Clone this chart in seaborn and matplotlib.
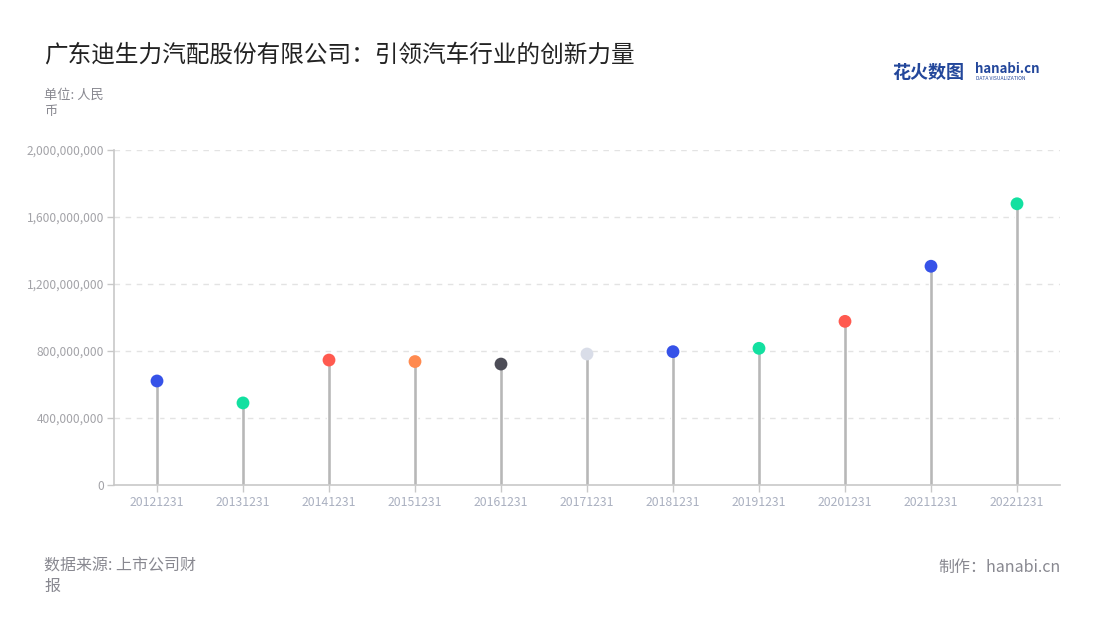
import numpy as np
import pandas as pd
import matplotlib
matplotlib.use("Agg")
import matplotlib.pyplot as plt
import seaborn as sns
from matplotlib.ticker import FuncFormatter


periods = ["20121231", "20131231", "20141231", "20151231", "20161231", "20171231",
           "20181231", "20191231", "20201231", "20211231", "20221231"]
rd_spend = [621e6, 490e6, 746e6, 737e6, 722e6, 782e6,
            796e6, 816e6, 977e6, 1306e6, 1679e6]
dot_colors = ["#3652e8", "#12e0a0", "#ff5a4f", "#ff8a4f", "#4d4d57", "#d9dde8",
              "#3652e8", "#12e0a0", "#ff5a4f", "#3652e8", "#12e0a0"]
y_ticks = [0, 400e6, 800e6, 1200e6, 1600e6, 2000e6]

TITLE = "广东迪生力汽配股份有限公司：引领汽车行业的创新力量"
UNIT = "单位: 人民\n币"
SOURCE = "数据来源: 上市公司财\n报"
MAKER = "制作：hanabi.cn"

sns.set_theme(style="white")
plt.rcParams["font.family"] = ["Noto Sans CJK SC", "DejaVu Sans"]

df = pd.DataFrame({"period": periods, "value": rd_spend})

fig = plt.figure(figsize=(11, 6.2), dpi=100)
ax = fig.add_axes([114 / 1100, 1 - 485 / 620, (1060 - 114) / 1100, (485 - 150) / 620])

# stems
sns.barplot(data=df, x="period", y="value", order=periods, color="#b7b7b7",
            width=0.05, saturation=1, errorbar=None, ax=ax, zorder=2)
# heads
sns.scatterplot(data=df, x="period", y="value", hue="period", hue_order=periods,
                palette=dot_colors, s=85, edgecolor="none", legend=False,
                ax=ax, zorder=3)

ax.set_xlim(-0.5, len(periods) - 0.5)
ax.set_ylim(0, 2000e6)
ax.set_yticks(y_ticks)
ax.yaxis.set_major_formatter(FuncFormatter(lambda v, p: f"{int(v):,}"))
ax.set_xlabel("")
ax.set_ylabel("")

for t in y_ticks[1:]:
    ax.axhline(t, color="#e3e3e3", lw=1, ls=(0, (4, 4)), zorder=1)

for side in ["top", "right"]:
    ax.spines[side].set_visible(False)
for side in ["left", "bottom"]:
    ax.spines[side].set_color("#c8c8c8")
    ax.spines[side].set_linewidth(1.2)

ax.tick_params(axis="y", colors="#c8c8c8", labelcolor="#a3a3a8", labelsize=8.6,
               length=5, width=1, left=True, pad=2)
ax.tick_params(axis="x", colors="#c8c8c8", labelcolor="#aab0c0", labelsize=8.8,
               length=5, width=1, bottom=True, pad=3)

fig.text(44 / 1100, 1 - 55 / 620, TITLE, fontsize=17, color="#222222",
         ha="left", va="center")
fig.text(44 / 1100, 1 - 89 / 620, UNIT, fontsize=9.5, color="#888890",
         ha="left", va="top", linespacing=1.25)
fig.text(44 / 1100, 1 - 557 / 620, SOURCE, fontsize=11.5, color="#888890",
         ha="left", va="top", linespacing=1.3)
fig.text(1061 / 1100, 1 - 567 / 620, MAKER, fontsize=11.5, color="#888890",
         ha="right", va="center")

# logo
fig.text(892 / 1100, 1 - 72 / 620, "花火数图", fontsize=13, color="#23479b",
         fontweight="bold", ha="left", va="center")
fig.text(975 / 1100, 1 - 69 / 620, "hanabi.cn", fontsize=9.5, color="#23479b",
         fontweight="bold", ha="left", va="center")
fig.text(976 / 1100, 1 - 79 / 620, "DATA VISUALIZATION", fontsize=3.6, color="#23479b",
         ha="left", va="center")

fig.savefig("out.png", dpi=100, facecolor="white")
